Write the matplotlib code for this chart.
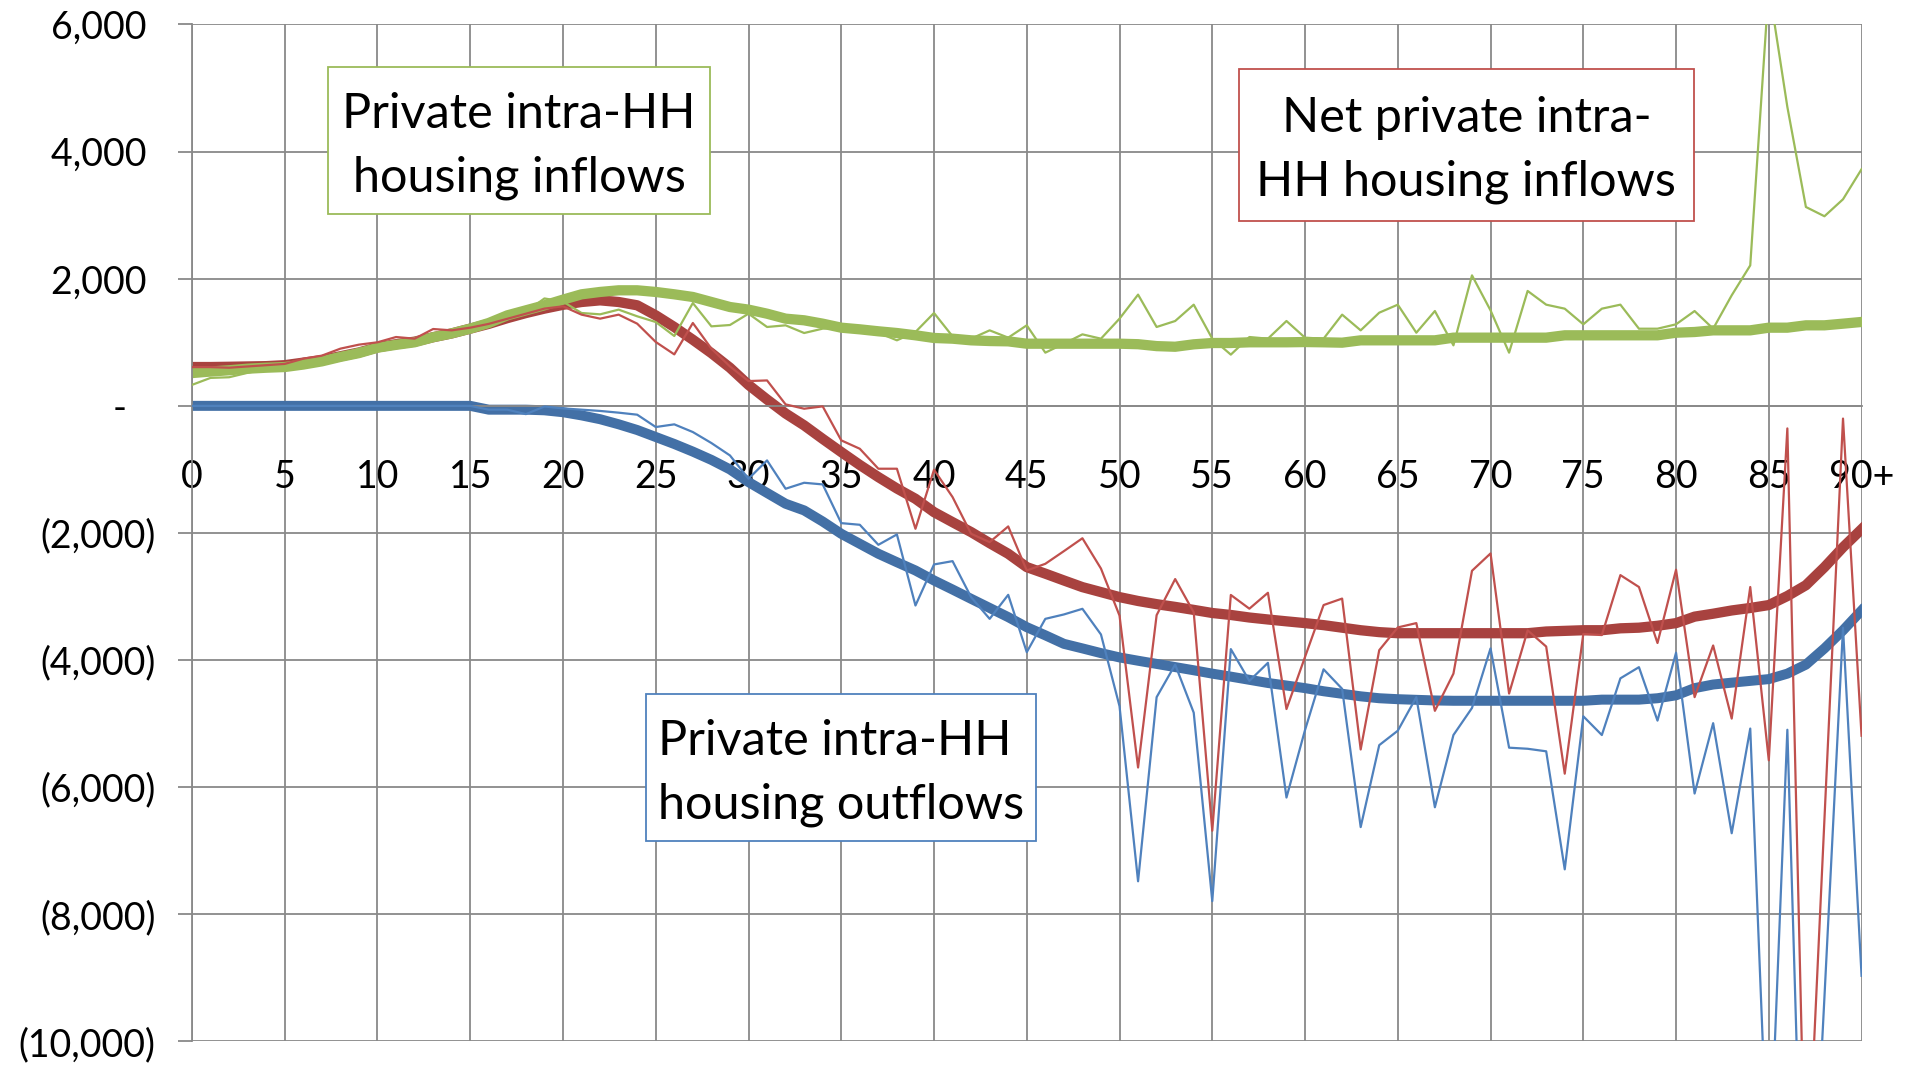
import matplotlib
matplotlib.use('Agg')
import matplotlib.pyplot as plt
from matplotlib.patches import Rectangle

plt.rcParams['font.family'] = ['Lato', 'DejaVu Sans']

ages = list(range(91))
age_labels = [str(a) for a in range(0, 90, 5)] + ['90+']
y_ticks = list(range(-10000, 6001, 2000))
y_labels = ['(10,000)', '(8,000)', '(6,000)', '(4,000)', '(2,000)', '-   ',
            '2,000 ', '4,000 ', '6,000 ']

# thin lines: raw values by age
inflows = [330, 440, 450, 520, 580, 620, 650, 720, 800, 900,
           940, 970, 1010, 1110, 1170, 1230, 1300, 1390, 1480, 1690,
           1640, 1461, 1440, 1514, 1409, 1319, 1099, 1618, 1251, 1272,
           1450, 1241, 1267, 1146, 1215, 1230, 1200, 1150, 1031, 1162,
           1461, 1094, 1057, 1188, 1073, 1267, 837, 978, 1125, 1057,
           1372, 1750, 1241, 1335, 1592, 1057, 806, 1083, 1057, 1335,
           1072, 1057, 1435, 1188, 1466, 1592, 1151, 1492, 952, 2053,
           1502, 837, 1808, 1592, 1529, 1283, 1529, 1592, 1214, 1214,
           1283, 1492, 1214, 1739, 2210, 6600, 4703, 3129, 2983, 3250,
           3723]
net = [610, 610, 600, 620, 640, 660, 742, 790, 900, 963,
       1000, 1083, 1057, 1209, 1188, 1230, 1290, 1370, 1450, 1530,
       1566, 1435, 1372, 1435, 1293, 1005, 810, 1304, 900, 620,
       390, 400, 23, -45, -8, -543, -675, -989, -989, -1934,
       -1005, -1435, -2013, -2144, -1897, -2590, -2485, -2286, -2083, -2560,
       -3300, -5690, -3293, -2725, -3248, -6684, -2975, -3191, -2941, -4770,
       -3950, -3134, -3032, -5406, -3844, -3486, -3418, -4798, -4213, -2595,
       -2322, -4526, -3532, -3787, -5787, -3589, -3606, -2663, -2850, -3731,
       -2578, -4583, -3770, -4920, -2850, -5577, -355, -12800, -6500, -200,
       -5190]
outflows = [0, 0, 0, 0, 0, 0, 0, 0, 0, 0,
            0, 0, 0, 0, 0, 0, -60, -60, -130, -10,
            -40, -60, -80, -107, -139, -333, -291, -412, -585, -780,
            -1147, -858, -1304, -1210, -1236, -1845, -1871, -2186, -2023, -3141,
            -2495, -2443, -3010, -3351, -2973, -3875, -3351, -3282, -3193, -3597,
            -4725, -7480, -4583, -4071, -4827, -7792, -3827, -4327, -4043, -6162,
            -5100, -4145, -4452, -6627, -5338, -5111, -4583, -6315, -5179, -4753,
            -3816, -5378, -5395, -5435, -7292, -4884, -5179, -4287, -4111, -4952,
            -3884, -6099, -4992, -6724, -5077, -12400, -5096, -15000, -9300, -3490,
            -8967]

# thick lines: smoothed values by age
inflows_smooth = [516, 540, 560, 585, 600, 611, 650, 700, 770, 830,
                  915, 960, 1000, 1080, 1140, 1215, 1304, 1424, 1503, 1582,
                  1671, 1755, 1792, 1818, 1818, 1792, 1755, 1713, 1634, 1555,
                  1514, 1450, 1372, 1346, 1293, 1230, 1204, 1173, 1146, 1110,
                  1068, 1057, 1031, 1020, 1015, 978, 978, 978, 978, 978,
                  978, 970, 940, 930, 968, 989, 989, 1000, 1000, 1000,
                  1004, 1000, 994, 1031, 1031, 1031, 1031, 1031, 1073, 1073,
                  1073, 1073, 1073, 1073, 1110, 1110, 1110, 1110, 1110, 1110,
                  1151, 1162, 1188, 1188, 1188, 1230, 1230, 1267, 1267, 1293,
                  1320]
net_smooth = [611, 611, 615, 620, 625, 640, 680, 720, 780, 840,
              920, 970, 1010, 1080, 1140, 1215, 1290, 1380, 1460, 1530,
              1590, 1634, 1660, 1634, 1582, 1424, 1240, 1040, 830, 600,
              330, 100, -120, -307, -520, -727, -930, -1121, -1300, -1462,
              -1672, -1830, -1986, -2160, -2327, -2537, -2640, -2747, -2852, -2930,
              -3009, -3070, -3120, -3163, -3210, -3259, -3290, -3330, -3361, -3390,
              -3418, -3450, -3490, -3530, -3560, -3577, -3577, -3577, -3577, -3577,
              -3577, -3577, -3577, -3550, -3540, -3530, -3530, -3500, -3490, -3460,
              -3418, -3316, -3270, -3219, -3180, -3134, -2992, -2822, -2538, -2225,
              -1941]
outflows_smooth = [0, 0, 0, 0, 0, 0, 0, 0, 0, 0,
                   0, 0, 0, 0, 0, 0, -60, -60, -60, -70,
                   -100, -150, -210, -290, -380, -490, -600, -720, -850, -1000,
                   -1199, -1370, -1540, -1645, -1820, -2013, -2170, -2327, -2460, -2590,
                   -2747, -2890, -3036, -3180, -3324, -3482, -3610, -3744, -3816, -3890,
                   -3958, -4010, -4060, -4110, -4160, -4213, -4260, -4310, -4360, -4400,
                   -4441, -4490, -4530, -4570, -4600, -4615, -4625, -4635, -4640, -4640,
                   -4640, -4640, -4640, -4640, -4640, -4640, -4622, -4622, -4622, -4600,
                   -4554, -4441, -4384, -4355, -4327, -4299, -4213, -4071, -3816, -3532,
                   -3219]

green = '#9BBB59'
red = '#C0504D'
blue = '#4F81BD'
red_dark = '#A8423F'
blue_dark = '#4370A6'
grid_c = '#898989'

fig = plt.figure(figsize=(19.14, 10.65), dpi=100)
ax = fig.add_axes([0.1003, 0.0221, 0.8723, 0.9549])

# trend lines underneath, raw lines on top
ax.plot(ages, net_smooth, color=red_dark, lw=7.4, solid_joinstyle='round', zorder=2)
ax.plot(ages, outflows_smooth, color=blue_dark, lw=7.2, solid_joinstyle='round', zorder=2)
ax.plot(ages, inflows_smooth, color=green, lw=7.4, solid_joinstyle='round', zorder=2)
ax.plot(ages, inflows, color=green, lw=1.6, zorder=3)
ax.plot(ages, net, color=red, lw=1.6, zorder=3)
ax.plot(ages, outflows, color=blue, lw=1.6, zorder=3)

ax.set_xlim(0, 90)
ax.set_ylim(-10000, 6000)
ax.set_xticks(range(0, 91, 5))
ax.set_xticklabels(age_labels)
ax.set_yticks(y_ticks)
ax.set_yticklabels(y_labels)

ax.grid(True, color=grid_c, linewidth=1.3)
ax.set_axisbelow(True)
for s in ['top', 'right']:
    ax.spines[s].set_visible(False)
ax.spines['bottom'].set_position(('data', 0))
ax.spines['bottom'].set_color(grid_c)
ax.spines['bottom'].set_linewidth(1.3)
ax.spines['left'].set_color(grid_c)
ax.spines['left'].set_linewidth(1.3)
ax.tick_params(axis='x', length=0, pad=38, labelsize=27)
ax.tick_params(axis='y', length=10, width=1.3, color=grid_c, pad=16, labelsize=27)

# label boxes (figure fractions)
boxes = [
    (0.1714, 0.7991, 0.1996, 0.1380, green, 'Private intra-HH\nhousing inflows'),
    (0.6473, 0.7925, 0.2377, 0.1427, red, 'Net private intra-\nHH housing inflows'),
    (0.3375, 0.2103, 0.2038, 0.1380, blue, 'Private intra-HH \nhousing outflows'),
]
for x0, y0, w, h, c, txt in boxes:
    fig.patches.append(Rectangle((x0, y0), w, h, transform=fig.transFigure,
                                 facecolor='white', edgecolor=c, lw=1.3, zorder=5))
    fig.text(x0 + w / 2, y0 + h / 2 - 0.005, txt, ha='center', va='center',
             multialignment='center', fontsize=35, linespacing=1.55, zorder=6)

fig.savefig('out.png', dpi=100)
